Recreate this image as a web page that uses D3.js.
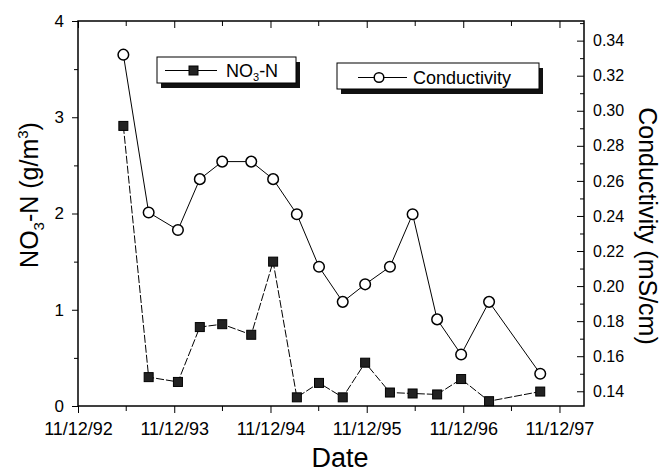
<!DOCTYPE html>
<html>
<head>
<meta charset="utf-8">
<script src="https://cdn.jsdelivr.net/npm/d3@7"></script>
<style>
  body { margin: 0; background: #fff; }
  svg { display: block; font-family: "Liberation Sans", Arial, sans-serif; }
</style>
</head>
<body>
<svg width="668" height="474"></svg>
<script>
var svg = d3.select('svg');

// data
var dates = ["1993-05-03", "1993-08-07", "1993-11-26", "1994-02-17", "1994-05-13", "1994-08-31",
    "1994-11-22", "1995-02-20", "1995-05-15", "1995-08-13", "1995-11-06", "1996-02-08",
    "1996-05-04", "1996-08-05", "1996-11-04", "1997-02-18", "1997-08-31"];
var no3 = [2.91, 0.30, 0.25, 0.82, 0.85, 0.74, 1.50, 0.09, 0.24, 0.09, 0.45, 0.14, 0.13, 0.12, 0.28, 0.05, 0.15];
var cond = [0.332, 0.242, 0.232, 0.261, 0.271, 0.271, 0.261, 0.241, 0.211, 0.191, 0.201, 0.211, 0.241, 0.181, 0.161, 0.191, 0.150];

var xTicks = ["1992-11-12", "1993-11-12", "1994-11-12", "1995-11-12", "1996-11-12", "1997-11-12"];
var leftTicks = [0, 1, 2, 3, 4];
var leftMinor = [0.5, 1.5, 2.5, 3.5];
var rightTicks = [0.14, 0.16, 0.18, 0.20, 0.22, 0.24, 0.26, 0.28, 0.30, 0.32, 0.34];
var rightMinor = [0.15, 0.17, 0.19, 0.21, 0.23, 0.25, 0.27, 0.29, 0.31, 0.33, 0.35];

var parse = d3.timeParse('%Y-%m-%d');
var fmt = d3.timeFormat('%m/%d/%y');

var pLeft = 78, pRight = 584, pTop = 21, pBottom = 406;

var x = d3.scaleTime()
    .domain([parse('1992-11-12'), parse('1998-02-13')])
    .range([pLeft, pRight]);
var yL = d3.scaleLinear().domain([0, 4]).range([pBottom, pTop]);
var yR = d3.scaleLinear().domain([0.1316, 0.3512]).range([pBottom, pTop]);

var xMajor = xTicks.map(parse);
var xMinor = xMajor.map(function(d){ return d3.timeMonth.offset(d, 6); })
    .filter(function(d){ return d < x.domain()[1]; });

var rows = dates.map(function(d, i){
    return {date: parse(d), no3: no3[i], cond: cond[i]};
});

// axes
function clean(g){
    g.select('.domain').remove();
    g.selectAll('line').attr('stroke', '#000').attr('stroke-width', 1);
}

svg.append('g')
    .attr('transform', 'translate(0,' + pBottom + ')')
    .call(d3.axisBottom(x).tickValues(xMajor).tickFormat(fmt).tickSize(7).tickPadding(9))
    .call(clean)
    .selectAll('text').attr('font-size', 18).attr('font-family', 'Liberation Sans, Arial').attr('fill', '#000');
svg.append('g')
    .attr('transform', 'translate(0,' + pBottom + ')')
    .call(d3.axisBottom(x).tickValues(xMinor).tickFormat('').tickSize(5))
    .call(clean);
svg.append('g')
    .attr('transform', 'translate(0,' + pTop + ')')
    .call(d3.axisTop(x).tickValues(xMajor).tickFormat('').tickSize(-7))
    .call(clean);
svg.append('g')
    .attr('transform', 'translate(0,' + pTop + ')')
    .call(d3.axisTop(x).tickValues(xMinor).tickFormat('').tickSize(-5))
    .call(clean);

svg.append('g')
    .attr('transform', 'translate(' + pLeft + ',0)')
    .call(d3.axisLeft(yL).tickValues(leftTicks).tickFormat(d3.format('d')).tickSize(6).tickPadding(8))
    .call(clean)
    .selectAll('text').attr('font-size', 17).attr('font-family', 'Liberation Sans, Arial').attr('fill', '#000');
svg.append('g')
    .attr('transform', 'translate(' + pLeft + ',0)')
    .call(d3.axisLeft(yL).tickValues(leftMinor).tickFormat('').tickSize(4))
    .call(clean);

svg.append('g')
    .attr('transform', 'translate(' + pRight + ',0)')
    .call(d3.axisRight(yR).tickValues(rightTicks).tickFormat(d3.format('.2f')).tickSize(-7).tickPadding(9))
    .call(clean)
    .selectAll('text').attr('font-size', 16).attr('font-family', 'Liberation Sans, Arial').attr('fill', '#000');
svg.append('g')
    .attr('transform', 'translate(' + pRight + ',0)')
    .call(d3.axisRight(yR).tickValues(rightMinor).tickFormat('').tickSize(-4))
    .call(clean);

// frame
svg.append('rect')
    .attr('x', pLeft).attr('y', pTop)
    .attr('width', pRight - pLeft).attr('height', pBottom - pTop)
    .attr('fill', 'none').attr('stroke', '#000').attr('stroke-width', 1.5);

// lines
var lineN = d3.line()
    .x(function(d){ return x(d.date); })
    .y(function(d){ return yL(d.no3); });
var lineC = d3.line()
    .x(function(d){ return x(d.date); })
    .y(function(d){ return yR(d.cond); });

svg.append('path').datum(rows)
    .attr('d', lineC)
    .attr('fill', 'none').attr('stroke', '#000').attr('stroke-width', 1);
svg.append('path').datum(rows)
    .attr('d', lineN)
    .attr('fill', 'none').attr('stroke', '#000').attr('stroke-width', 1)
    .attr('stroke-dasharray', '8,2');

// markers
svg.selectAll('circle.cond')
    .data(rows)
    .enter()
    .append('circle')
    .attr('class', 'cond')
    .attr('cx', function(d){ return x(d.date); })
    .attr('cy', function(d){ return yR(d.cond); })
    .attr('r', 5.3)
    .attr('fill', '#fff')
    .attr('stroke', '#000')
    .attr('stroke-width', 1.5);

svg.selectAll('rect.no3')
    .data(rows)
    .enter()
    .append('rect')
    .attr('class', 'no3')
    .attr('x', function(d){ return x(d.date) - 4.5; })
    .attr('y', function(d){ return yL(d.no3) - 4.5; })
    .attr('width', 9)
    .attr('height', 9)
    .attr('fill', '#222')
    .attr('stroke', '#000')
    .attr('stroke-width', 1);

// legends
function legendBox(x0, y0, w, h){
    svg.append('rect')
        .attr('x', x0 + 4).attr('y', y0 + 5)
        .attr('width', w).attr('height', h)
        .attr('fill', '#111');
    svg.append('rect')
        .attr('x', x0).attr('y', y0)
        .attr('width', w).attr('height', h)
        .attr('fill', '#fff').attr('stroke', '#000').attr('stroke-width', 1);
}

legendBox(157, 57, 139, 26);
svg.append('line')
    .attr('x1', 165).attr('x2', 217).attr('y1', 70.5).attr('y2', 70.5)
    .attr('stroke', '#000').attr('stroke-width', 1.2);
svg.append('rect')
    .attr('x', 189).attr('y', 66).attr('width', 9).attr('height', 9)
    .attr('fill', '#222').attr('stroke', '#000');
var t1 = svg.append('text')
    .attr('x', 226).attr('y', 76.5)
    .attr('font-size', 18);
t1.append('tspan').text('NO');
t1.append('tspan').attr('font-size', 11).attr('dy', 4).text('3');
t1.append('tspan').attr('dy', -4).text('-N');

legendBox(337, 63, 202, 26);
svg.append('line')
    .attr('x1', 358).attr('x2', 407).attr('y1', 77.5).attr('y2', 77.5)
    .attr('stroke', '#000').attr('stroke-width', 1.2);
svg.append('circle')
    .attr('cx', 379).attr('cy', 77.5).attr('r', 4.8)
    .attr('fill', '#fff').attr('stroke', '#000').attr('stroke-width', 1.5);
svg.append('text')
    .attr('x', 413).attr('y', 83.5)
    .attr('font-size', 18)
    .text('Conductivity');

// axis titles
var tl = svg.append('text')
    .attr('transform', 'translate(38,195) rotate(-90)')
    .attr('text-anchor', 'middle')
    .attr('font-size', 25);
tl.append('tspan').text('NO');
tl.append('tspan').attr('font-size', 15).attr('dy', 6).text('3');
tl.append('tspan').attr('dy', -6).text('-N (g/m');
tl.append('tspan').attr('font-size', 15).attr('dy', -10).text('3');
tl.append('tspan').attr('dy', 10).text(')');

svg.append('text')
    .attr('transform', 'translate(639,226) rotate(90)')
    .attr('text-anchor', 'middle')
    .attr('font-size', 25)
    .text('Conductivity (mS/cm)');

svg.append('text')
    .attr('x', 340).attr('y', 467)
    .attr('text-anchor', 'middle')
    .attr('font-size', 27)
    .text('Date');
</script>
</body>
</html>
